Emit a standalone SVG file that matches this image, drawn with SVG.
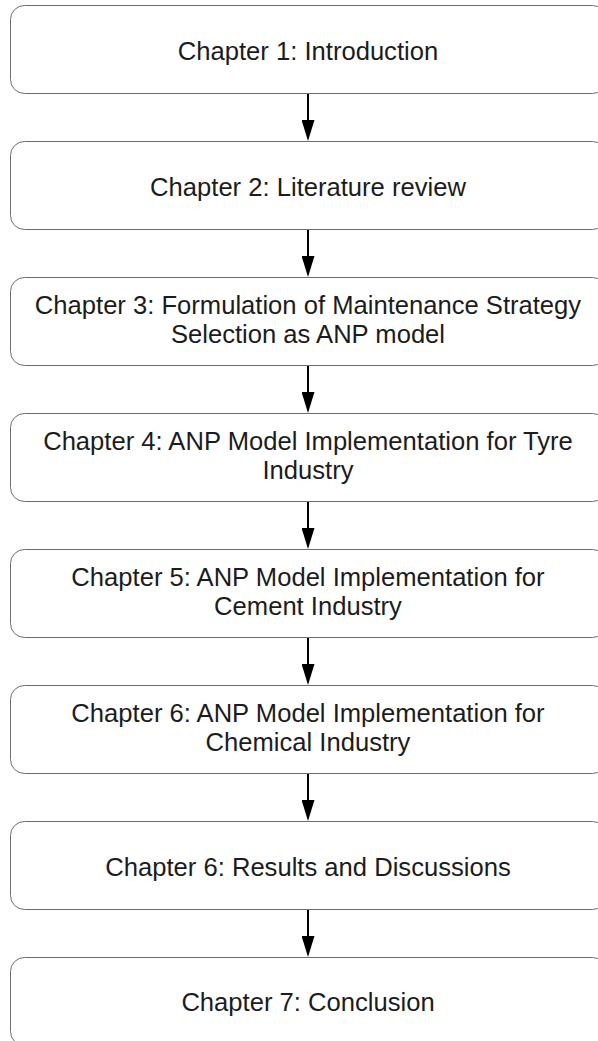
<svg xmlns="http://www.w3.org/2000/svg" width="598" height="1041" viewBox="0 0 598 1041">
  <style>
    .box { fill: #ffffff; stroke: #6e6e6e; stroke-width: 1; }
    .label { font-family: "Liberation Sans", Arial, sans-serif; font-size: 25.6px; fill: #1c1c1c; text-anchor: middle; }
    .link { stroke: #000000; stroke-width: 2; fill: none; marker-end: url(#arrow); }
  </style>
  <defs>
    <!-- arrowhead drawn along +x; its base sits at the end of the line -->
    <marker id="arrow" viewBox="0 0 21 13" refX="0" refY="6.5" markerWidth="21" markerHeight="13" markerUnits="userSpaceOnUse" orient="auto">
      <path d="M0,0 L21,6.5 L0,13 Z" fill="#000000"/>
    </marker>
  </defs>
  <rect width="598" height="1041" fill="#ffffff"/>

  <g id="connectors">
    <line class="link" x1="308" y1="93" x2="308" y2="120"/>
    <line class="link" x1="308" y1="229" x2="308" y2="256"/>
    <line class="link" x1="308" y1="365" x2="308" y2="392"/>
    <line class="link" x1="308" y1="501" x2="308" y2="528"/>
    <line class="link" x1="308" y1="637" x2="308" y2="664"/>
    <line class="link" x1="308" y1="773" x2="308" y2="800"/>
    <line class="link" x1="308" y1="909" x2="308" y2="936"/>
  </g>

  <g id="ch1">
    <rect class="box" x="10.5" y="5.5" width="596" height="88" rx="14"/>
    <text class="label" x="308" y="60">Chapter 1: Introduction</text>
  </g>
  <g id="ch2">
    <rect class="box" x="10.5" y="141.5" width="596" height="88" rx="14"/>
    <text class="label" x="308" y="196">Chapter 2: Literature review</text>
  </g>
  <g id="ch3">
    <rect class="box" x="10.5" y="277.5" width="596" height="88" rx="14"/>
    <text class="label" x="308" y="314">Chapter 3: Formulation of Maintenance Strategy</text>
    <text class="label" x="308" y="343">Selection as ANP model</text>
  </g>
  <g id="ch4">
    <rect class="box" x="10.5" y="413.5" width="596" height="88" rx="14"/>
    <text class="label" x="308" y="450">Chapter 4: ANP Model Implementation for Tyre</text>
    <text class="label" x="308" y="479">Industry</text>
  </g>
  <g id="ch5">
    <rect class="box" x="10.5" y="549.5" width="596" height="88" rx="14"/>
    <text class="label" x="308" y="586">Chapter 5: ANP Model Implementation for</text>
    <text class="label" x="308" y="615">Cement Industry</text>
  </g>
  <g id="ch6">
    <rect class="box" x="10.5" y="685.5" width="596" height="88" rx="14"/>
    <text class="label" x="308" y="722">Chapter 6: ANP Model Implementation for</text>
    <text class="label" x="308" y="751">Chemical Industry</text>
  </g>
  <g id="ch6-results">
    <rect class="box" x="10.5" y="821.5" width="596" height="88" rx="14"/>
    <text class="label" x="308" y="876">Chapter 6: Results and Discussions</text>
  </g>
  <g id="ch7">
    <rect class="box" x="10.5" y="957.5" width="596" height="88" rx="14"/>
    <text class="label" x="308" y="1011">Chapter 7: Conclusion</text>
  </g>
</svg>
